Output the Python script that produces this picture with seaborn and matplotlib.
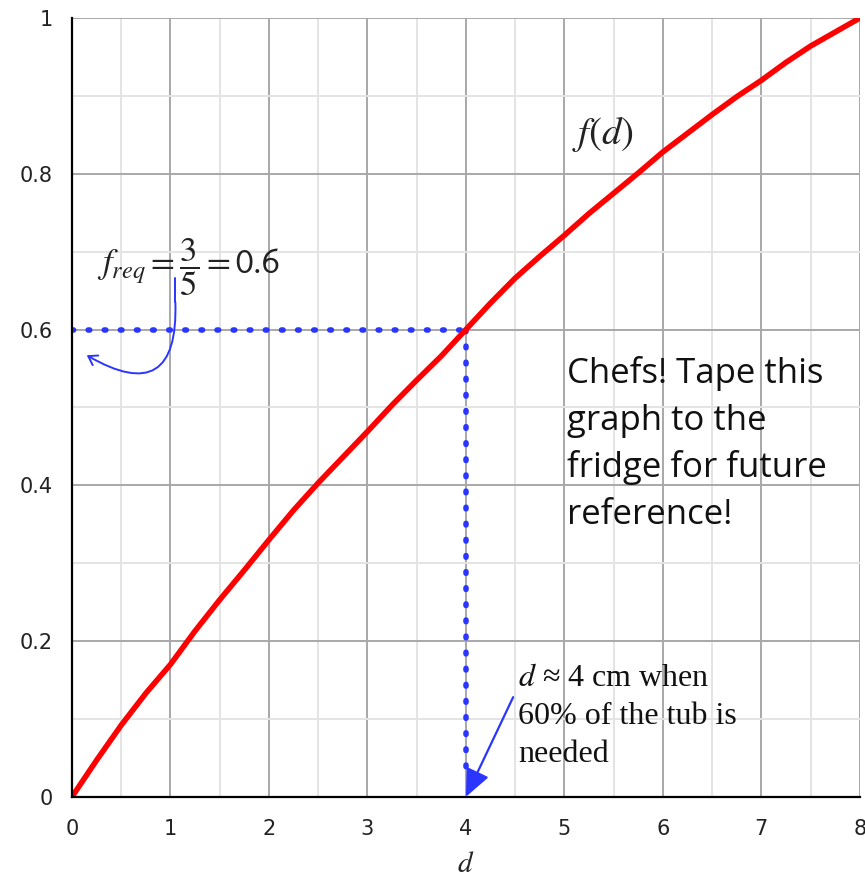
import numpy as np
import pandas as pd
import matplotlib
matplotlib.use("Agg")
import matplotlib.pyplot as plt
from matplotlib.ticker import MultipleLocator, FixedLocator, FixedFormatter
import seaborn as sns

# Fraction of the tub filled, f(d), against depth d (cm)
depth = [0, 0.25, 0.5, 0.75, 1, 1.25, 1.5, 1.75, 2, 2.25, 2.5, 2.75, 3,
         3.25, 3.5, 3.75, 4, 4.25, 4.5, 4.75, 5, 5.25, 5.5, 5.75, 6,
         6.25, 6.5, 6.75, 7, 7.25, 7.5, 7.75, 8]
fraction = [0, 0.047, 0.092, 0.133, 0.170, 0.213, 0.253, 0.291, 0.330,
            0.368, 0.403, 0.436, 0.469, 0.503, 0.535, 0.566, 0.6, 0.634,
            0.666, 0.694, 0.721, 0.749, 0.775, 0.801, 0.828, 0.852, 0.876,
            0.899, 0.920, 0.943, 0.964, 0.982, 1.0]

f_req = 0.6
d_req = 4

x_ticks = [0, 1, 2, 3, 4, 5, 6, 7, 8]
y_ticks = [0, 0.2, 0.4, 0.6, 0.8, 1.0]
y_tick_labels = ["0", "0.2", "0.4", "0.6", "0.8", "1"]

sns.set_style("white")
plt.rcParams["font.family"] = ["DejaVu Sans"]
plt.rcParams["mathtext.fontset"] = "stix"

BLUE = "#2a35ff"

fig = plt.figure(figsize=(8.65, 8.8), dpi=100)
ax = fig.add_axes([0.0832, 0.0945, 0.9108, 0.885])

df = pd.DataFrame({"d": depth, "f": fraction})
sns.lineplot(data=df, x="d", y="f", ax=ax, color="#ff0000", linewidth=4,
             zorder=5)

ax.set_xlim(0, 8)
ax.set_ylim(0, 1)

# Grid: major every 1 / 0.2, minor every 0.5 / 0.1
ax.xaxis.set_major_locator(FixedLocator(x_ticks))
ax.yaxis.set_major_locator(FixedLocator(y_ticks))
ax.yaxis.set_major_formatter(FixedFormatter(y_tick_labels))
ax.xaxis.set_minor_locator(MultipleLocator(0.5))
ax.yaxis.set_minor_locator(MultipleLocator(0.1))
ax.grid(True, which="major", color="#a8a8a8", linewidth=1.4, zorder=0)
ax.grid(True, which="minor", color="#e4e4e4", linewidth=1.4, zorder=0)
ax.set_axisbelow(True)

for side in ["top", "right"]:
    ax.spines[side].set_visible(False)
for side in ["left", "bottom"]:
    ax.spines[side].set_color("black")
    ax.spines[side].set_linewidth(1.6)
    ax.spines[side].set_zorder(6)

ax.tick_params(axis="both", which="both", direction="out", length=8,
               width=1.4, color="black", labelsize=15, labelcolor="#222222")
ax.tick_params(axis="x", which="major", pad=8)
ax.tick_params(axis="y", which="major", pad=6)

ax.set_xlabel("$d$", fontsize=21, labelpad=8)
ax.set_ylabel("")

# Dotted guide lines at the required fraction
dots = (0, (0.3, 2.6))
ax.plot([0, d_req], [f_req, f_req], linestyle=dots, color=BLUE,
        linewidth=4, dash_capstyle="round", zorder=4)
ax.plot([d_req, d_req], [f_req, 0.03], linestyle=dots, color=BLUE,
        linewidth=4, dash_capstyle="round", zorder=4)

# Arrow pointing at d = 4 on the axis
ax.annotate("", xy=(d_req, 0.0), xytext=(4.48, 0.128),
            arrowprops=dict(arrowstyle="-|>,head_length=1.7,head_width=0.75",
                            color=BLUE, lw=1.6, shrinkA=0, shrinkB=0),
            zorder=7)
ax.text(4.53, 0.17, "$d$ \u2248 4 cm when\n60% of the tub is\nneeded",
        fontsize=23, family="Liberation Serif", va="top", ha="left",
        linespacing=1.4, color="#111111")

# Hand-drawn style arrow from the f_req label to the 0.6 level
ax.plot([1.05, 1.05], [0.666, 0.635], color=BLUE, lw=1.4)
ax.annotate("", xy=(0.15, 0.567), xytext=(1.05, 0.635),
            arrowprops=dict(arrowstyle="->,head_length=0.6,head_width=0.4",
                            connectionstyle="arc3,rad=-0.9",
                            color=BLUE, lw=1.4, shrinkA=0, shrinkB=0))

ax.text(0.25, 0.68, r"$f_{req} = \dfrac{3}{5} = \mathsf{0.6}$", fontsize=25,
        va="center", ha="left", color="#222222")

ax.text(5.08, 0.826, "$f(d)$", fontsize=28, va="bottom", ha="left",
        color="#222222")

ax.text(5.03, 0.566, "Chefs! Tape this\ngraph to the\nfridge for future\nreference!",
        fontsize=25, family="Open Sans", va="top", ha="left",
        linespacing=1.48, color="#111111")

fig.savefig("out.png", dpi=100, facecolor="white")
